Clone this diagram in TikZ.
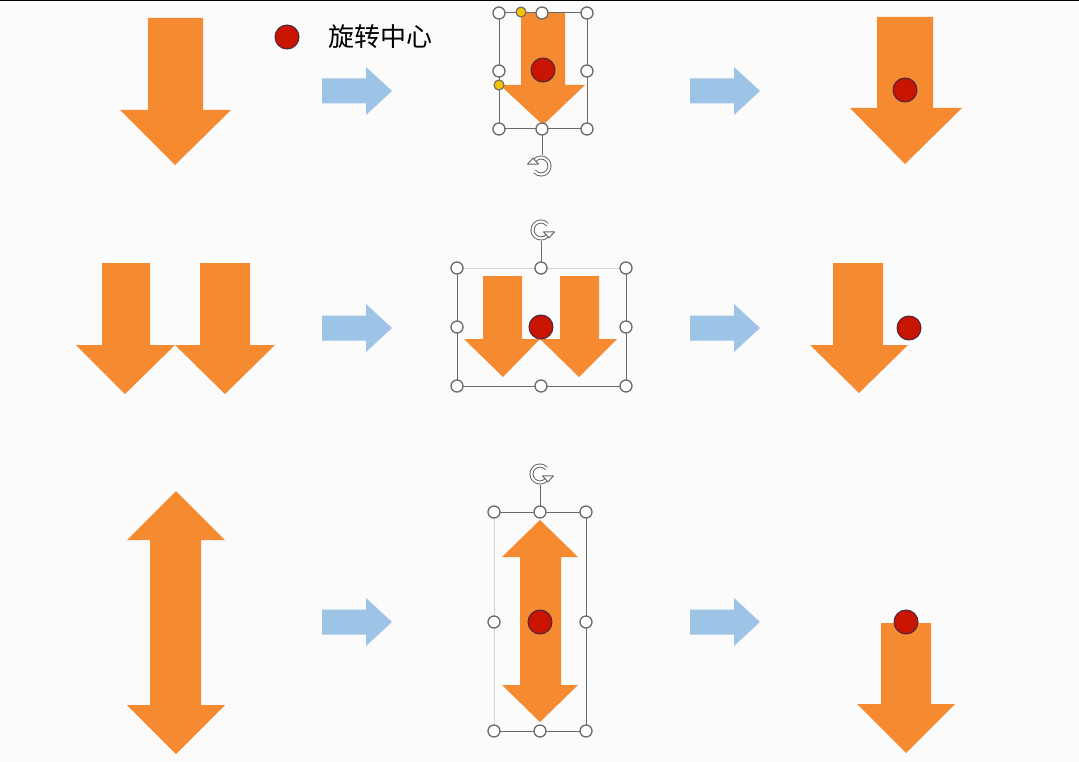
\documentclass[tikz,border=0pt]{standalone}
\usepackage{fontspec}
\newfontfamily\cjk{Noto Sans CJK SC}
\usetikzlibrary{arrows.meta}
\definecolor{bg}{HTML}{FBFBFB}
\definecolor{org}{HTML}{F68A30}
\definecolor{blu}{HTML}{9DC3E6}
\definecolor{rdot}{HTML}{C81400}
\definecolor{rline}{HTML}{4A2A40}
\definecolor{hgray}{HTML}{6A6A6A}
\definecolor{lgray}{HTML}{D4D4D4}
\definecolor{ylw}{HTML}{F5C400}
\tikzset{
 orangearrow/.style={fill=org, draw=none},
 bluearrow/.style={fill=blu, draw=none},
 rotc/.style={circle, fill=rdot, draw=rline, line width=1pt, minimum size=24pt, inner sep=0pt},
 handle/.style={circle, fill=white, draw=hgray, line width=1.3pt, minimum size=12pt, inner sep=0pt},
 yhandle/.style={circle, fill=ylw, draw=hgray, line width=1.1pt, minimum size=10pt, inner sep=0pt},
 selbox/.style={draw=hgray, line width=1pt},
 rotline/.style={draw=hgray, line width=0.9pt},
 roticon/.style={draw=hgray, line width=1pt, double=white, double distance=2pt},
}
% blue arrow with left end x and centre y
\newcommand\bluearrowat[2]{%
 \fill[bluearrow] (#1,#2-12.5) -- (#1+44,#2-12.5) -- (#1+44,#2-24) -- (#1+70,#2) -- (#1+44,#2+24) -- (#1+44,#2+12.5) -- (#1,#2+12.5) -- cycle;}
% rotation icon: x, y, xscale, yscale
\newcommand\roticonat[4]{%
 \begin{scope}[shift={(#1,#2)}, xscale=#3, yscale=#4]
  \draw[roticon] (20:8.5) arc[start angle=20, end angle=320, radius=8.5];
  \draw[hgray, line width=1pt, fill=white, line join=round] (20:8.5) ++(-5.5,-1) -- ++(11,0) -- ++(-5.5,6) -- cycle;
 \end{scope}}
\begin{document}
\begin{tikzpicture}[x=1pt,y=-1pt]
\useasboundingbox (0,0) rectangle (1079,762);
\fill[bg] (0,0) rectangle (1079,762);
\draw[black, line width=1.5pt] (0,0.5) -- (1079,0.5);

% ---------- legend ----------
\node[rotc] (legdot) at (287,37) {};
\node[anchor=west, inner sep=0pt, font=\cjk\fontsize{26}{30}\selectfont] (legtext) at (328,37) {旋转中心};

% ---------- row 1 ----------
\fill[orangearrow] (148,18) -- (203,18) -- (203,110) -- (231,110) -- (175,165) -- (120,110) -- (148,110) -- cycle;
\bluearrowat{322}{91}
\fill[orangearrow] (521,13) -- (565,13) -- (565,85) -- (585,85) -- (543,125) -- (500,85) -- (521,85) -- cycle;
\draw[selbox] (499,13) rectangle (587,129);
\draw[rotline] (542,129) -- (542,155);
\roticonat{541}{166}{-1}{-1}
\foreach \n/\p in {a/{499,13},b/{542,13},c/{587,13},d/{499,71},e/{587,71},f/{499,129},g/{542,129},h/{587,129}}
  \node[handle] (h1\n) at (\p) {};
\node[yhandle] (y1a) at (521,12) {};
\node[yhandle] (y1b) at (499,85) {};
\node[rotc] (c1m) at (543,70) {};
\bluearrowat{690}{91}
\fill[orangearrow] (877,17) -- (933,17) -- (933,108) -- (962,108) -- (905,164) -- (850,108) -- (877,108) -- cycle;
\node[rotc] (c1r) at (905,90) {};

% ---------- row 2 ----------
\fill[orangearrow] (102,263) -- (150,263) -- (150,345) -- (175,345) -- (125,394) -- (76,345) -- (102,345) -- cycle;
\fill[orangearrow] (200,263) -- (250,263) -- (250,345) -- (275,345) -- (225,394) -- (175,345) -- (200,345) -- cycle;
\bluearrowat{322}{328}
\draw[lgray, line width=0.9pt] (457,268) -- (626,268);
\draw[selbox] (457,268) -- (457,386) -- (626,386) -- (626,268);
\fill[orangearrow] (483,276) -- (522,276) -- (522,339) -- (540,339) -- (503,377) -- (464,339) -- (483,339) -- cycle;
\fill[orangearrow] (560,276) -- (599,276) -- (599,339) -- (617,339) -- (579,377) -- (540,339) -- (560,339) -- cycle;
\draw[rotline] (541,268) -- (541,241);
\roticonat{541}{230}{1}{1}
\foreach \n/\p in {a/{457,268},b/{541,268},c/{626,268},d/{457,327},e/{626,327},f/{457,386},g/{541,386},h/{626,386}}
  \node[handle] (h2\n) at (\p) {};
\node[rotc] (c2m) at (541,327) {};
\bluearrowat{690}{328}
\fill[orangearrow] (833,263) -- (883,263) -- (883,345) -- (908,345) -- (859,393) -- (810,345) -- (833,345) -- cycle;
\node[rotc] (c2r) at (909,328) {};

% ---------- row 3 ----------
\fill[orangearrow] (176,491) -- (225,540) -- (201,540) -- (201,705) -- (225,705) -- (176,754) -- (127,705) -- (150,705) -- (150,540) -- (127,540) -- cycle;
\bluearrowat{322}{622}
\draw[lgray, line width=0.9pt] (494,512) -- (494,731);
\draw[selbox] (494,512) -- (586,512) -- (586,731) -- (494,731);
\fill[orangearrow] (540,520) -- (578,557) -- (561,557) -- (561,685) -- (578,685) -- (540,722) -- (502,685) -- (520,685) -- (520,557) -- (502,557) -- cycle;
\draw[rotline] (540,512) -- (540,485);
\roticonat{540}{474}{1}{1}
\foreach \n/\p in {a/{494,512},b/{540,512},c/{586,512},d/{494,622},e/{586,622},f/{494,731},g/{540,731},h/{586,731}}
  \node[handle] (h3\n) at (\p) {};
\node[rotc] (c3m) at (540,622) {};
\bluearrowat{690}{622}
\fill[orangearrow] (881,623) -- (931,623) -- (931,704) -- (955,704) -- (906,753) -- (857,704) -- (881,704) -- cycle;
\node[rotc] (c3r) at (906,622) {};
\end{tikzpicture}
\end{document}
